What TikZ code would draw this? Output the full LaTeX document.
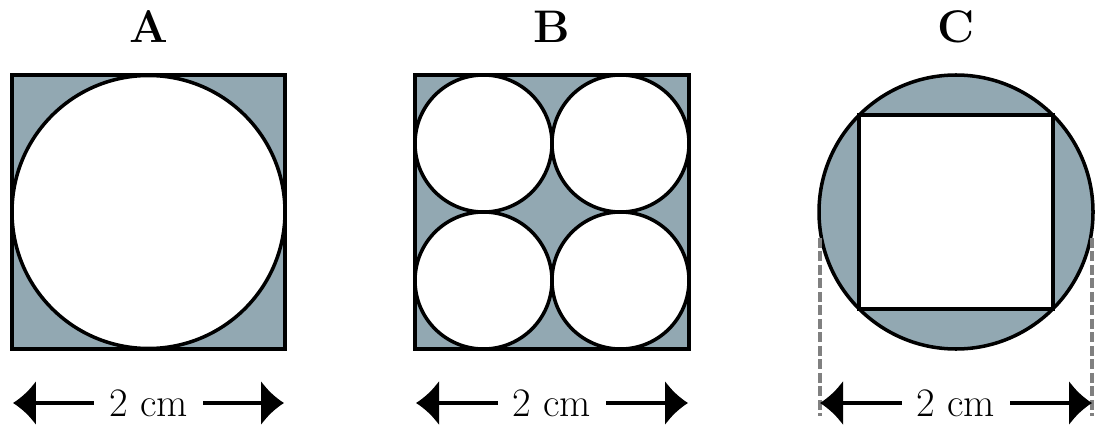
\documentclass[tikz,border=0pt]{standalone}
\usetikzlibrary{arrows.meta,positioning}
\definecolor{tilegray}{RGB}{146,168,178}

\begin{document}
\begin{tikzpicture}[>={Latex[length=0.46cm,width=0.9cm]},x=0.02cm,y=-0.02cm]
  \tikzstyle{outline}=[draw,line width=2pt]
  \tikzstyle{title}=[font=\fontsize{26}{30}\selectfont\bfseries]
  \tikzstyle{dim}=[line width=2pt,<->]
  \tikzstyle{dimlabel}=[fill=white,inner xsep=0.3cm,font=\fontsize{23}{27}\selectfont]
  \tikzstyle{guide}=[black!50,line width=2pt,dash pattern=on 0.2cm off 0.07cm]
  \useasboundingbox (0,0) rectangle (1095,429);

  % A: one circle in the square
  \fill[tilegray] (12,75) rectangle (285,349);
  \draw[outline,fill=white] (148.5,212) circle (136.5);
  \draw[outline] (12,75) rectangle (285,349);
  \node[title] (ta) at (148.5,27) {A};

  % B: four circles in the square
  \fill[tilegray] (415,75) rectangle (689,349);
  \foreach \cx in {483.5,620.5}
    \foreach \cy in {143.5,280.5}
      \draw[outline,fill=white] (\cx,\cy) circle (68.5);
  \draw[outline] (415,75) rectangle (689,349);
  \node[title] (tb) at (552,27) {B};

  % C: square in the circle
  \draw[outline,fill=tilegray] (956,212) circle (137);
  \draw[outline,fill=white] (859.1,115.1) rectangle (1052.9,308.9);
  \node[title] (tc) at (956,27) {C};

  % widths
  \coordinate (aL) at (13,403);
  \coordinate (aR) at (284,403);
  \coordinate (bL) at (416,403);
  \coordinate (bR) at (688,403);
  \coordinate (cL) at (820,403);
  \coordinate (cR) at (1092,403);
  \coordinate (cLtop) at (820,238);
  \coordinate (cRtop) at (1092,238);
  \coordinate (cLbot) at (820,416);
  \coordinate (cRbot) at (1092,416);
  \draw[guide] (cLtop) -- (cLbot);
  \draw[guide] (cRtop) -- (cRbot);
  \draw[dim] (aL) -- node[dimlabel] (wa) {2 cm} (aR);
  \draw[dim] (bL) -- node[dimlabel] (wb) {2 cm} (bR);
  \draw[dim] (cL) -- node[dimlabel] (wc) {2 cm} (cR);
\end{tikzpicture}
\end{document}
